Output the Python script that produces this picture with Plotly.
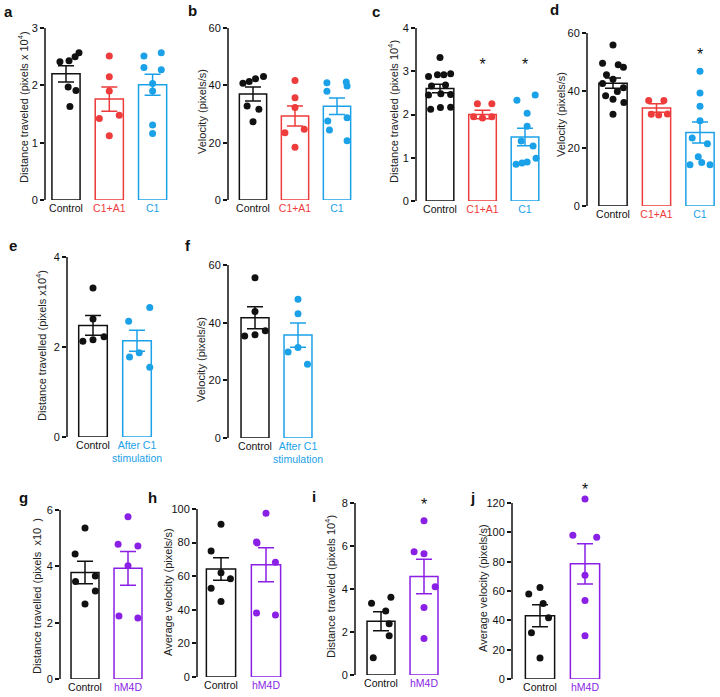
import plotly.graph_objects as go

W, H = 720, 697
FONT = "Liberation Sans, Arial, sans-serif"
BLACK = "#111111"
RED = "#EE3B3B"
BLUE = "#1BA1E8"
PURPLE = "#8A1FE6"

# ---------------- data ----------------
# panel a : distance travelled (x10^4 pixels)
A_GROUPS = ["Control", "C1+A1", "C1"]
A_MEANS = [2.20, 1.76, 2.01]
A_SEMS = [0.14, 0.21, 0.185]
A_CTRL = [2.41, 2.43, 2.50, 2.57, 1.97, 1.91, 1.63]
A_C1A1 = [2.51, 2.15, 1.90, 1.42, 1.48, 1.12]
A_C1 = [2.51, 2.57, 2.31, 2.27, 2.03, 1.90, 1.31, 1.16]
A_JIT = [[-0.14, 0.07, 0.21, 0.30, 0.05, 0.23, 0.09],
         [0, 0, 0, -0.23, 0.23, 0],
         [-0.2, 0.2, -0.2, 0.2, 0, 0, 0, 0]]

# panel b : velocity (pixels/s)
B_GROUPS = ["Control", "C1+A1", "C1"]
B_MEANS = [37.0, 29.3, 32.7]
B_SEMS = [2.45, 3.5, 2.9]
B_CTRL = [40.7, 41.3, 42.3, 43.1, 32.8, 31.7, 27.3]
B_C1A1 = [41.7, 35.7, 32.3, 23.5, 24.7, 18.4]
B_C1 = [40.9, 41.2, 37.9, 39.8, 27.6, 28.7, 24.4, 20.7]
B_JIT = [[-0.24, -0.09, 0.06, 0.25, -0.14, 0.14, 0],
         [0, 0, 0, -0.24, 0.22, 0],
         [-0.24, 0.22, -0.24, 0.24, -0.22, 0.24, -0.18, 0.24]]

# panel c : distance travelled (x10^4 pixels)
C_GROUPS = ["Control", "C1+A1", "C1"]
C_MEANS = [2.60, 2.00, 1.48]
C_SEMS = [0.10, 0.10, 0.20]
C_CTRL = [3.32, 2.88, 2.92, 2.92, 2.94, 2.66, 2.68, 2.45, 2.48, 2.46, 2.12, 2.16, 2.17]
C_C1A1 = [2.25, 2.25, 1.95, 1.92, 1.95]
C_C1 = [2.33, 2.45, 2.03, 1.73, 1.39, 1.27, 0.85, 0.88, 0.90, 0.99]
C_JIT = [[0, -0.27, -0.06, 0.09, 0.25, -0.2, 0.13, -0.27, 0.02, 0.25, -0.22, 0.01, 0.25],
         [-0.12, 0.22, -0.21, 0, 0.22],
         [-0.19, 0.24, 0.05, 0.05, -0.09, 0.19, -0.21, -0.07, 0.05, 0.26]]
C_STARS = [(1, 3.12), (2, 3.12)]

# panel d : velocity (pixels/s)
D_GROUPS = ["Control", "C1+A1", "C1"]
D_MEANS = [42.6, 34.0, 25.5]
D_SEMS = [1.75, 1.5, 3.65]
D_CTRL = [55.8, 49.5, 49.0, 48.1, 45.5, 44.0, 42.5, 41.0, 39.7, 38.2, 37.0, 35.9, 31.8]
D_C1A1 = [36.6, 36.6, 31.8, 31.6, 31.9]
D_C1 = [46.7, 39.2, 34.6, 29.6, 23.6, 21.6, 17.1, 15.1, 14.3, 14.3]
D_JIT = [[0, -0.24, 0.12, 0.24, -0.15, 0, -0.24, 0.24, 0.1, -0.17, 0, 0.25, 0],
         [-0.18, 0.17, -0.12, 0.05, 0.25],
         [0, 0, 0, 0, -0.18, 0.17, -0.04, 0.04, -0.23, 0.23]]
D_STARS = [(2, 52.0)]

# panel e : distance travelled (x10^4 pixels)
E_GROUPS = ["Control", "After C1<br>stimulation"]
E_MEANS = [2.48, 2.14]
E_SEMS = [0.22, 0.235]
E_CTRL = [3.31, 2.62, 2.13, 2.16, 2.23]
E_AFTER = [2.57, 2.88, 1.78, 1.87, 1.55]
E_JIT = [[0, 0, -0.23, 0, 0.25],
         [-0.19, 0.29, -0.17, 0.05, 0.29]]

# panel f : velocity (pixels/s)
F_GROUPS = ["Control", "After C1<br>stimulation"]
F_MEANS = [41.7, 35.7]
F_SEMS = [3.85, 4.2]
F_CTRL = [55.6, 43.9, 35.4, 35.8, 37.2]
F_AFTER = [48.1, 43.1, 29.8, 31.4, 25.6]
F_JIT = [[0, 0, -0.24, 0, 0.24],
         [0, 0, -0.23, 0, 0.22]]

# panel g : distance travelled
G_GROUPS = ["Control", "hM4D"]
G_MEANS = [3.78, 3.93]
G_SEMS = [0.40, 0.60]
G_CTRL = [5.36, 4.44, 3.46, 3.66, 3.12, 2.66]
G_HM4D = [5.76, 4.78, 4.72, 4.02, 2.24, 2.17]
G_JIT = [[0, -0.23, -0.22, 0.24, 0.24, 0],
         [0, -0.23, 0.23, 0, -0.21, 0.23]]

# panel h : average velocity (pixels/s)
H_GROUPS = ["Control", "hM4D"]
H_MEANS = [64.3, 66.8]
H_SEMS = [6.65, 10.1]
H_CTRL = [90.9, 75.0, 62.1, 58.5, 52.8, 45.0]
H_HM4D = [97.4, 80.4, 79.8, 68.3, 38.1, 36.9]
H_JIT = [[0, -0.22, 0, 0.21, -0.22, 0],
         [0, -0.21, -0.2, 0.21, -0.21, 0.21]]

# panel i : distance travelled (x10^4 pixels)
I_GROUPS = ["Control", "hM4D"]
I_MEANS = [2.50, 4.58]
I_SEMS = [0.44, 0.80]
I_CTRL = [3.34, 3.62, 2.98, 2.38, 1.82, 0.80]
I_HM4D = [7.18, 5.73, 5.64, 4.10, 3.14, 1.70]
I_JIT = [[-0.22, 0.23, 0.11, 0.19, 0.19, -0.18],
         [0, -0.23, 0, 0.26, 0, 0]]
I_STARS = [(1, 7.85)]

# panel j : average velocity (pixels/s)
J_GROUPS = ["Control", "hM4D"]
J_MEANS = [43.2, 78.5]
J_SEMS = [7.5, 13.8]
J_CTRL = [57.9, 62.4, 51.4, 41.8, 31.6, 14.3]
J_HM4D = [122.7, 98.0, 96.6, 70.7, 53.6, 29.5]
J_JIT = [[-0.25, 0, 0.07, 0.19, -0.19, 0],
         [0, -0.27, 0.26, 0, 0, 0]]
J_STARS = [(1, 128.5)]

# ---------------- layout spec (pixels) ----------------
panels = [
    dict(letter="a", groups=A_GROUPS, colors=[BLACK, RED, BLUE], means=A_MEANS, sems=A_SEMS,
         points=[A_CTRL, A_C1A1, A_C1], jit=A_JIT, ymax=3, dtick=1,
         ytitle="Distance traveled (pixels x 10<sup>4</sup>)",
         box=(45, 175, 28, 200), c0=66, s=43.3, tpos=(23, 107), lpos=(8, 12), stars=[]),
    dict(letter="b", groups=B_GROUPS, colors=[BLACK, RED, BLUE], means=B_MEANS, sems=B_SEMS,
         points=[B_CTRL, B_C1A1, B_C1], jit=B_JIT, ymax=60, dtick=20,
         ytitle="Velocity (pixels/s)",
         box=(228, 358, 28, 200), c0=253, s=42, tpos=(202, 112), lpos=(192, 11), stars=[]),
    dict(letter="c", groups=C_GROUPS, colors=[BLACK, RED, BLUE], means=C_MEANS, sems=C_SEMS,
         points=[C_CTRL, C_C1A1, C_C1], jit=C_JIT, ymax=4, dtick=1,
         ytitle="Distance traveled (pixels 10<sup>4</sup>)",
         box=(416, 545, 28, 201), c0=440, s=42.5, tpos=(393, 111), lpos=(376, 12), stars=C_STARS),
    dict(letter="d", groups=D_GROUPS, colors=[BLACK, RED, BLUE], means=D_MEANS, sems=D_SEMS,
         points=[D_CTRL, D_C1A1, D_C1], jit=D_JIT, ymax=60, dtick=20,
         ytitle="Velocity (pixels/s)",
         box=(587, 718, 33, 206), c0=613, s=43.5, tpos=(561, 115), lpos=(554, 9), stars=D_STARS),
    dict(letter="e", groups=E_GROUPS, colors=[BLACK, BLUE], means=E_MEANS, sems=E_SEMS,
         points=[E_CTRL, E_AFTER], jit=E_JIT, ymax=4, dtick=2,
         ytitle="Distance travelled (pixels x10<sup>4</sup>)",
         box=(67, 160, 257, 437), c0=93, s=44, tpos=(41, 346), lpos=(13, 245), stars=[]),
    dict(letter="f", groups=F_GROUPS, colors=[BLACK, BLUE], means=F_MEANS, sems=F_SEMS,
         points=[F_CTRL, F_AFTER], jit=F_JIT, ymax=60, dtick=20,
         ytitle="Velocity (pixels/s)",
         box=(228, 320, 265, 438), c0=255, s=43, tpos=(201, 360), lpos=(188, 245), stars=[]),
    dict(letter="g", groups=G_GROUPS, colors=[BLACK, PURPLE], means=G_MEANS, sems=G_SEMS,
         points=[G_CTRL, G_HM4D], jit=G_JIT, ymax=6, dtick=2,
         ytitle="Distance travelled (pixels  x10  )",
         box=(60, 150, 510, 679), c0=85, s=43, tpos=(37, 596), lpos=(23, 497), stars=[]),
    dict(letter="h", groups=H_GROUPS, colors=[BLACK, PURPLE], means=H_MEANS, sems=H_SEMS,
         points=[H_CTRL, H_HM4D], jit=H_JIT, ymax=100, dtick=20,
         ytitle="Average velocity (pixels/s)",
         box=(197, 290, 509, 677), c0=221, s=45, tpos=(168, 592), lpos=(152, 497), stars=[]),
    dict(letter="i", groups=I_GROUPS, colors=[BLACK, PURPLE], means=I_MEANS, sems=I_SEMS,
         points=[I_CTRL, I_HM4D], jit=I_JIT, ymax=8, dtick=2,
         ytitle="Distance traveled (pixels 10<sup>4</sup>)",
         box=(355, 445, 503, 675), c0=381, s=43, tpos=(330, 587), lpos=(314, 496), stars=I_STARS),
    dict(letter="j", groups=J_GROUPS, colors=[BLACK, PURPLE], means=J_MEANS, sems=J_SEMS,
         points=[J_CTRL, J_HM4D], jit=J_JIT, ymax=120, dtick=20,
         ytitle="Average velocity (pixels/s)",
         box=(512, 605, 503, 679), c0=540, s=45, tpos=(483, 588), lpos=(472, 497), stars=J_STARS),
]

EXT = 1.1  # head-room above the last tick so that points/stars above it stay visible

fig = go.Figure()
layout = dict(width=W, height=H, margin=dict(l=0, r=0, t=0, b=0),
              paper_bgcolor="white", plot_bgcolor="white", showlegend=False,
              barmode="overlay", font=dict(family=FONT, color=BLACK),
              annotations=[], shapes=[])

for k, p in enumerate(panels, start=1):
    xn = "x" if k == 1 else f"x{k}"
    yn = "y" if k == 1 else f"y{k}"
    xa, xb, yt, yb = p["box"]
    r0 = -(p["c0"] - xa) / p["s"]
    r1 = r0 + (xb - xa) / p["s"]
    ytop_ext = yb - (yb - yt) * EXT
    for j, (g, c) in enumerate(zip(p["groups"], p["colors"])):
        fig.add_trace(go.Bar(
            x=[j], y=[p["means"][j]], width=0.65, xaxis=xn, yaxis=yn,
            marker=dict(color="white", line=dict(color=c, width=1.5)),
            error_y=dict(type="data", array=[p["sems"][j]], color=c, thickness=1.5, width=8),
            hoverinfo="skip"))
    for j, c in enumerate(p["colors"]):
        fig.add_trace(go.Scatter(
            x=[j + o for o in p["jit"][j]], y=p["points"][j], mode="markers",
            xaxis=xn, yaxis=yn, cliponaxis=False,
            marker=dict(color=c, size=7, line=dict(width=0)), hoverinfo="skip"))
    if p["stars"]:
        fig.add_trace(go.Scatter(
            x=[sx for sx, _ in p["stars"]], y=[sy for _, sy in p["stars"]],
            mode="text", text=["*"] * len(p["stars"]), textposition="middle center",
            textfont=dict(size=16, family=FONT, color=BLACK), cliponaxis=False,
            xaxis=xn, yaxis=yn, hoverinfo="skip"))
    ticktext = [f'<span style="color:{c}">{g}</span>' for g, c in zip(p["groups"], p["colors"])]
    xkey = "xaxis" if k == 1 else f"xaxis{k}"
    ykey = "yaxis" if k == 1 else f"yaxis{k}"
    layout[xkey] = dict(domain=[xa / W, xb / W], range=[r0, r1], anchor=yn,
                        showgrid=False, zeroline=False, showline=False, ticks="",
                        tickmode="array", tickvals=list(range(len(p["groups"]))),
                        ticktext=ticktext, tickangle=0, automargin=False,
                        tickfont=dict(size=10.5, family=FONT), fixedrange=True)
    layout[ykey] = dict(domain=[1 - yb / H, min(1.0, 1 - ytop_ext / H)],
                        range=[0, p["ymax"] * EXT], anchor=xn,
                        showgrid=False, zeroline=False, showline=False,
                        ticks="outside", ticklen=4, tickwidth=1.5,
                        tickcolor=BLACK, dtick=p["dtick"], tick0=0, automargin=False,
                        tickfont=dict(size=11, family=FONT, color=BLACK), fixedrange=True)
    layout["shapes"].append(dict(
        type="line", xref=f"{xn} domain", yref=yn, x0=0, x1=0, y0=0, y1=p["ymax"],
        line=dict(color=BLACK, width=1.5), layer="above"))
    tx, ty = p["tpos"]
    layout["annotations"].append(dict(
        text=p["ytitle"], textangle=-90, xref="paper", yref="paper",
        x=tx / W, y=1 - ty / H, xanchor="center", yanchor="middle", showarrow=False,
        font=dict(size=11, family=FONT, color="#222222")))
    lx, ly = p["lpos"]
    layout["annotations"].append(dict(
        text=f"<b>{p['letter']}</b>", xref="paper", yref="paper",
        x=lx / W, y=1 - ly / H, xanchor="center", yanchor="middle", showarrow=False,
        font=dict(size=15, family=FONT, color=BLACK)))

fig.update_layout(**layout)
fig.write_html("out.html", config={"displayModeBar": False},
               post_script="document.body.style.margin='0';document.body.style.padding='0';")
